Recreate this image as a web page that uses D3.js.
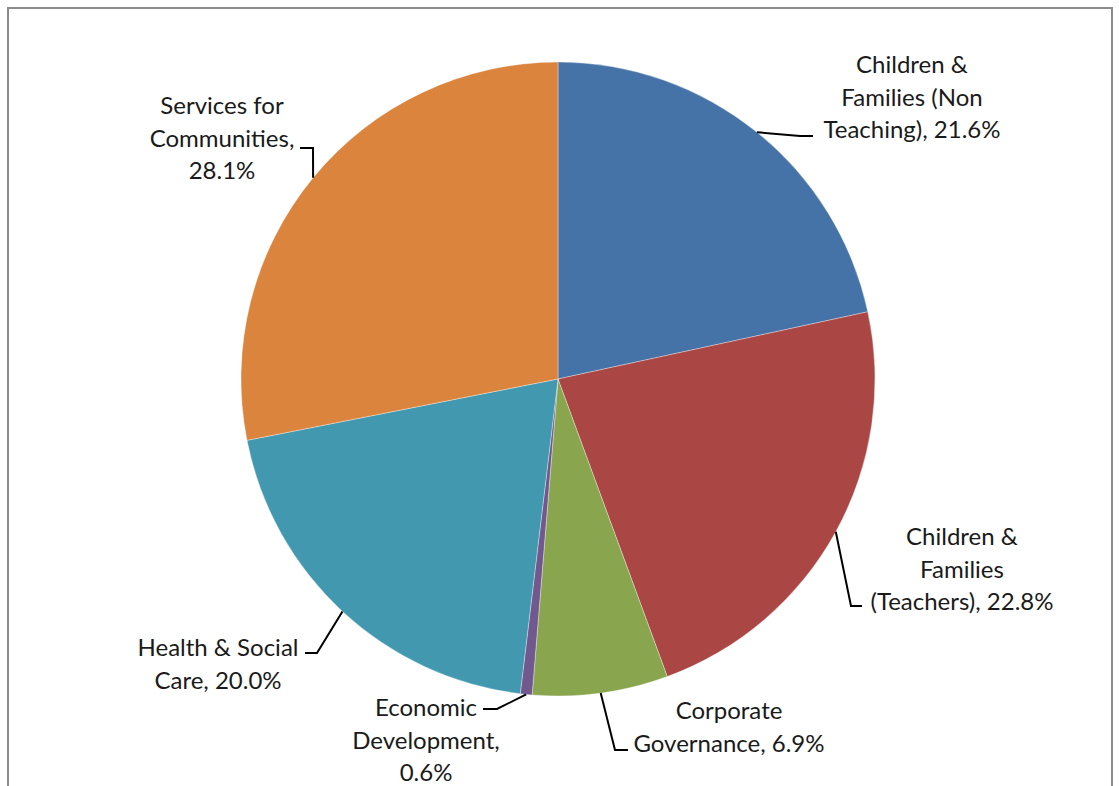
<!DOCTYPE html>
<html>
<head>
<meta charset="utf-8">
<script src="https://cdn.jsdelivr.net/npm/d3@7"></script>
<style>
  body { margin: 0; background: #fff; }
  svg { display: block; }
</style>
</head>
<body>
<div class="pie"></div>
<script>
// data, clockwise from 12 o'clock
const categories = [
  "Children & Families (Non Teaching)",
  "Children & Families (Teachers)",
  "Corporate Governance",
  "Economic Development",
  "Health & Social Care",
  "Services for Communities"
];
const values = [21.6, 22.8, 6.9, 0.6, 20.0, 28.1];
const labelLines = [
  ["Children &", "Families (Non", "Teaching), 21.6%"],
  ["Children &", "Families", "(Teachers), 22.8%"],
  ["Corporate", "Governance, 6.9%"],
  ["Economic", "Development,", "0.6%"],
  ["Health & Social", "Care, 20.0%"],
  ["Services for", "Communities,", "28.1%"]
];
const colors = ["#4572A7", "#AA4643", "#89A54E", "#71588F", "#4198AF", "#DB843D"];

// label placement: text centre x, first baseline y, leader elbow and end
const labelPos = [
  { x: 912, y: 73, elbow: [800, 136], end: [813, 136] },
  { x: 962, y: 545, elbow: [851, 606], end: [862, 606] },
  { x: 729, y: 719, elbow: [615, 750], end: [628, 750] },
  { x: 426, y: 716, elbow: [497, 709], end: [483, 709] },
  { x: 218, y: 656, elbow: [317, 653], end: [305, 653] },
  { x: 222, y: 114, elbow: [313, 148], end: [300, 148] }
];

let width = 1119,
  height = 786,
  cx = 558,
  cy = 379,
  radius = 317,
  lineH = 32.5;

let svg = d3
  .select(".pie")
  .append("svg")
  .attr("width", width)
  .attr("height", height);

// chart frame (bottom runs off the picture)
svg
  .append("rect")
  .attr("x", 8)
  .attr("y", 8)
  .attr("width", 1104)
  .attr("height", 800)
  .attr("fill", "none")
  .attr("stroke", "#8c8c8c")
  .attr("stroke-width", 2);

let data = categories.map((c, i) => ({ name: c, value: values[i], i: i }));

let pie = d3.pie().sort(null).value((d) => d.value);
let arc = d3.arc().innerRadius(0).outerRadius(radius);
let arcs = pie(data);

let g = svg.append("g").attr("transform", "translate(" + cx + "," + cy + ")");

g.selectAll(".slice")
  .data(arcs)
  .enter()
  .append("path")
  .attr("class", "slice")
  .attr("d", arc)
  .attr("fill", (d) => colors[d.data.i])
  .attr("stroke", "#ffffff")
  .attr("stroke-opacity", 0.5)
  .attr("stroke-width", 0.7);

// leader lines: start on the rim at the slice's mid angle
let leaders = svg.append("g");
arcs.forEach((d) => {
  let a = (d.startAngle + d.endAngle) / 2;
  let sx = cx + radius * Math.sin(a),
    sy = cy - radius * Math.cos(a);
  let p = labelPos[d.data.i];
  leaders
    .append("polyline")
    .attr("points", [[sx, sy], p.elbow, p.end].map((q) => q.join(",")).join(" "))
    .attr("fill", "none")
    .attr("stroke", "#000")
    .attr("stroke-width", 2);
});

// labels
let labels = svg.append("g");
labelLines.forEach((lines, i) => {
  let p = labelPos[i];
  let t = labels
    .append("text")
    .attr("text-anchor", "middle")
    .attr("font-family", "Lato, 'Open Sans', sans-serif")
    .attr("font-size", 24)
    .attr("fill", "#1a1a1a");
  lines.forEach((l, j) => {
    t.append("tspan").attr("x", p.x).attr("y", p.y + j * lineH).text(l);
  });
});
</script>
</body>
</html>
